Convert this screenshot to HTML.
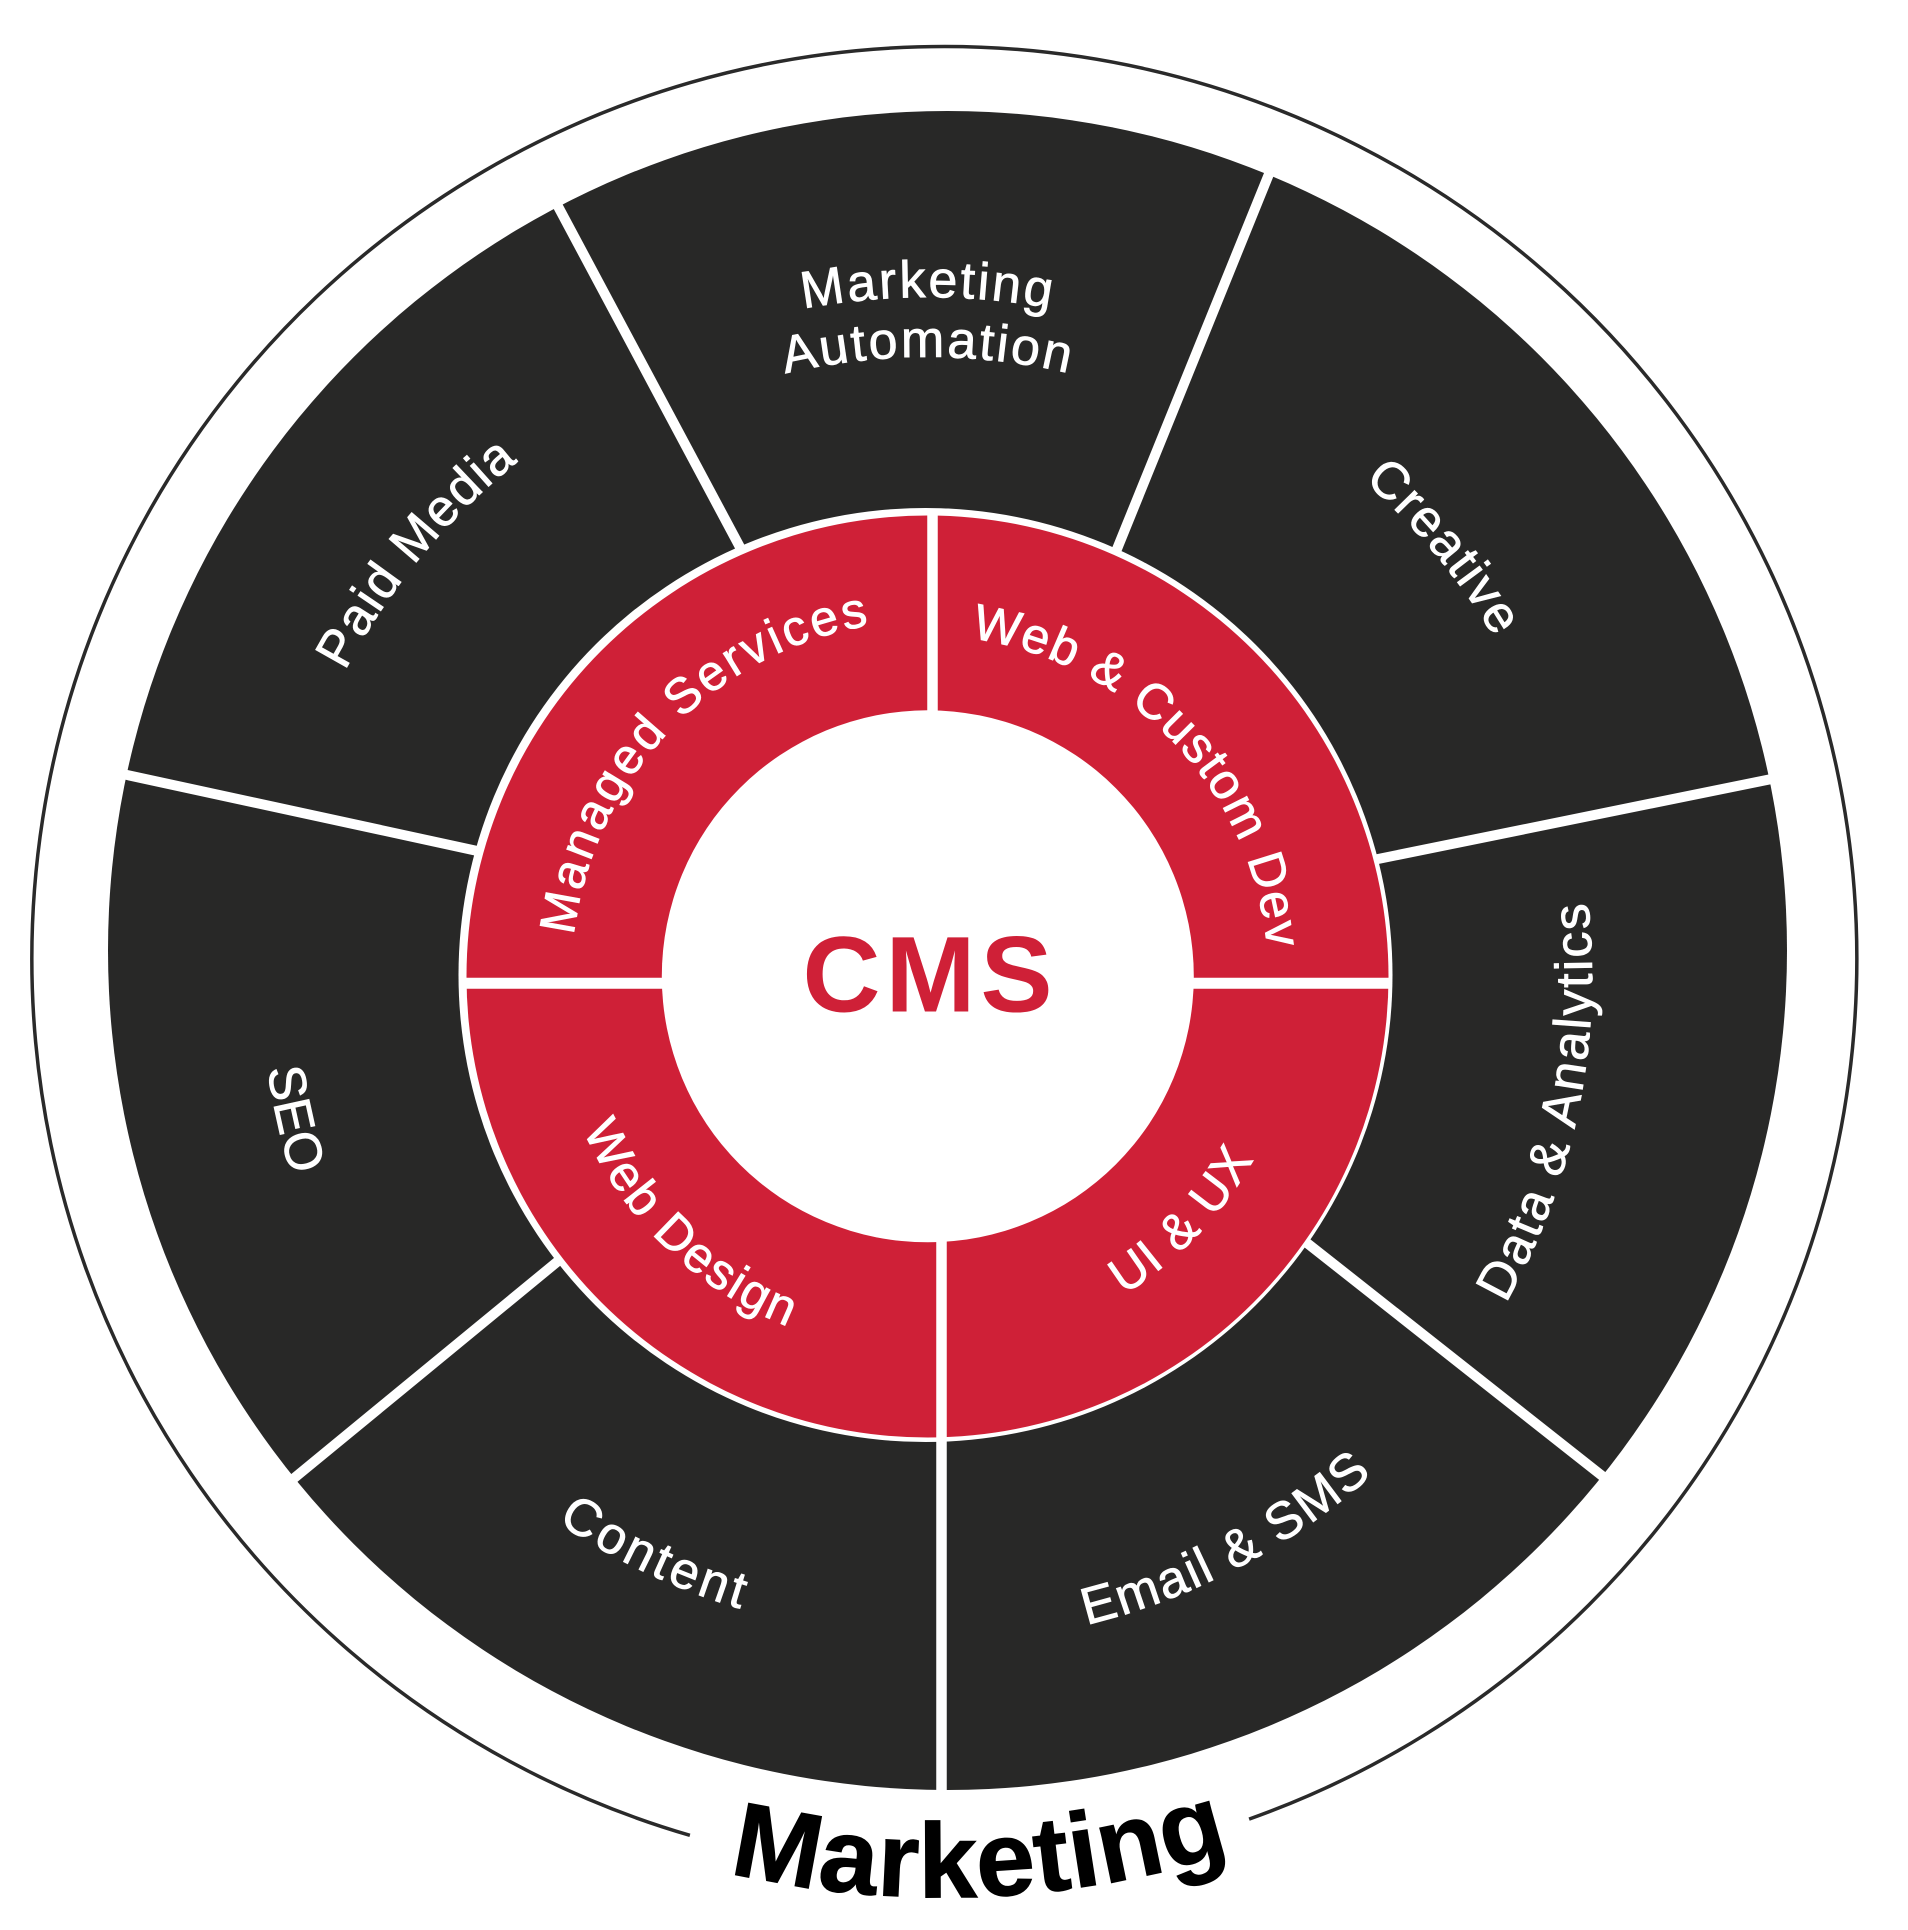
<!DOCTYPE html>
<html>
<head>
<meta charset="utf-8">
<style>
html,body{margin:0;padding:0;background:#fff;}
svg{display:block;}
text{font-family:"Liberation Sans", sans-serif;}
</style>
</head>
<body>
<svg width="1908" height="1930" viewBox="0 0 1908 1930" xmlns="http://www.w3.org/2000/svg">
<defs>
<path id="p_mk" d="M 249 976 A 679 679 0 0 1 1607 976"/>
<path id="p_au" d="M 309 976 A 619 619 0 0 1 1547 976"/>
<path id="p_pm" d="M 502.9 1489.9 A 667 667 0 0 1 1353.1 462.1"/>
<path id="p_cr" d="M 506.4 468.2 A 660 660 0 0 1 1349.6 1483.8"/>
<path id="p_da" d="M 795.6 1626.7 A 664 664 0 0 0 1060.4 325.3"/>
<path id="p_em" d="M 337.1 1287.6 A 668 668 0 0 0 1518.9 664.4"/>
<path id="p_co" d="M 327.2 693.3 A 664 664 0 0 0 1528.8 1258.7"/>
<path id="p_seo" d="M 780.7 322.4 A 670 670 0 0 0 1075.3 1629.6"/>
<path id="p_ms" d="M 681.1 1233.5 A 356 356 0 0 1 1173.9 719.5"/>
<path id="p_wc" d="M 689.6 726.7 A 345 345 0 0 1 1165.4 1226.3"/>
<path id="p_wd" d="M 654.9 716 A 377 377 0 0 0 1200.1 1237"/>
<path id="p_ui" d="M 667.7 1248.3 A 376 376 0 0 0 1187.3 704.7"/>
<path id="p_mb" d="M -2.2 996.9 A 947 947 0 0 0 1890.2 921.0"/>
</defs>

<!-- thin outer circle with gap at bottom -->
<path d="M 689.9 1835.3 A 912.5 912.5 0 1 1 1249.1 1819.1" fill="none" stroke="#2a2a2a" stroke-width="3.5"/>

<!-- dark disk -->
<circle cx="947.5" cy="950.5" r="839.5" fill="#282827"/>

<!-- dividers in dark ring -->
<g stroke="#ffffff" stroke-width="10" stroke-linecap="butt">
<line x1="754.3" y1="574" x2="545" y2="182"/>
<line x1="1104" y1="581.1" x2="1278.4" y2="150.8"/>
<line x1="1326.3" y1="869.5" x2="1793.1" y2="774.6"/>
<line x1="1261.1" y1="1206.8" x2="1621.3" y2="1491"/>
<line x1="595.4" y1="1230.4" x2="277" y2="1492.2"/>
<line x1="512.1" y1="858.5" x2="97.7" y2="768.6"/>
</g>

<!-- red ring -->
<circle cx="925.5" cy="975" r="467" fill="#ffffff"/>
<circle cx="927.5" cy="976.5" r="461" fill="#cf2037"/>
<g stroke="#ffffff" stroke-linecap="butt">
<line x1="932.5" y1="512" x2="932.5" y2="730" stroke-width="10.5"/>
<line x1="941.5" y1="1220" x2="941.5" y2="1800" stroke-width="10.5"/>
<line x1="459" y1="983.3" x2="1392" y2="983.3" stroke-width="11"/>
</g>
<circle cx="927.8" cy="976.3" r="266" fill="#ffffff"/>

<!-- CMS -->
<text x="930" y="1011.7" font-size="108" font-weight="bold" fill="#cf2037" text-anchor="middle" letter-spacing="5">CMS</text>

<!-- outer labels -->
<g fill="#ffffff" stroke="#ffffff" stroke-width="0.8" font-size="52">
<text letter-spacing="2.5"><textPath href="#p_mk" startOffset="50%" text-anchor="middle">Marketing</textPath></text>
<text letter-spacing="2.5"><textPath href="#p_au" startOffset="50%" text-anchor="middle">Automation</textPath></text>
<text letter-spacing="1.5"><textPath href="#p_pm" startOffset="50%" text-anchor="middle">Paid Media</textPath></text>
<text letter-spacing="1.6"><textPath href="#p_cr" startOffset="50%" text-anchor="middle">Creative</textPath></text>
<text letter-spacing="2.5"><textPath href="#p_da" startOffset="50%" text-anchor="middle">Data &amp; Analytics</textPath></text>
<text letter-spacing="2"><textPath href="#p_em" startOffset="50%" text-anchor="middle">Email &amp; SMS</textPath></text>
<text letter-spacing="3.5"><textPath href="#p_co" startOffset="50%" text-anchor="middle">Content</textPath></text>
<text letter-spacing="0"><textPath href="#p_seo" startOffset="50%" text-anchor="middle">SEO</textPath></text>
</g>

<!-- inner labels -->
<g fill="#ffffff" stroke="#ffffff" stroke-width="0.8" font-size="50">
<text letter-spacing="3"><textPath href="#p_ms" startOffset="50%" text-anchor="middle">Managed Services</textPath></text>
<text letter-spacing="1.6"><textPath href="#p_wc" startOffset="50%" text-anchor="middle">Web &amp; Custom Dev</textPath></text>
<text letter-spacing="2.2"><textPath href="#p_wd" startOffset="50%" text-anchor="middle">Web Design</textPath></text>
<text letter-spacing="1.5"><textPath href="#p_ui" startOffset="50%" text-anchor="middle">UI &amp; UX</textPath></text>
</g>

<!-- bottom title -->
<text font-size="106" font-weight="bold" fill="#000000" stroke="#000000" stroke-width="1" letter-spacing="1"><textPath href="#p_mb" startOffset="50%" text-anchor="middle">Marketing</textPath></text>
</svg>
</body>
</html>
